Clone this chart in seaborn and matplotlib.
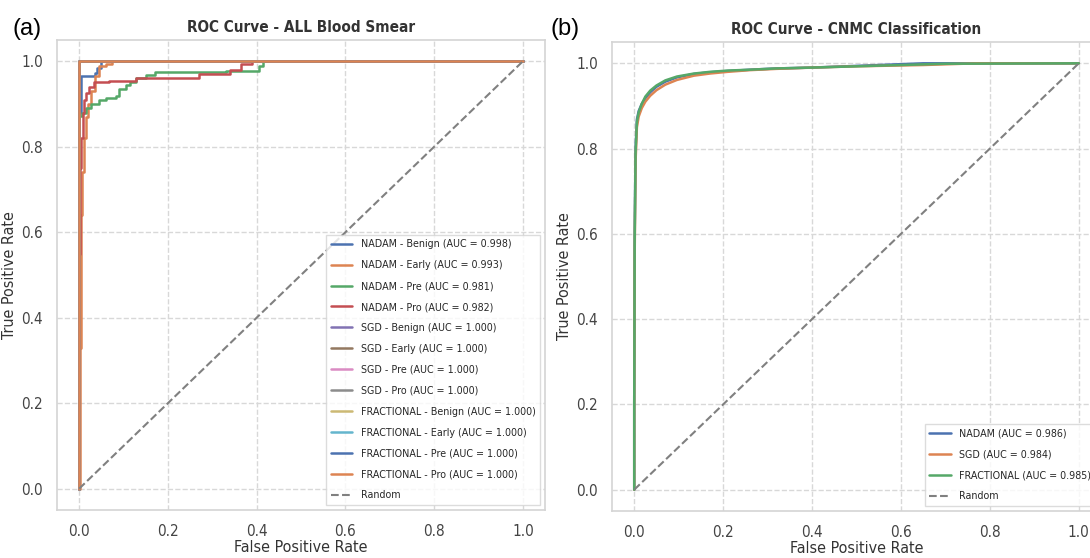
import numpy as np
import pandas as pd
import matplotlib
matplotlib.use("Agg")
import matplotlib.pyplot as plt
import seaborn as sns

# --- Panel (a): ALL Blood Smear, per-class ROC points ---
a_labels = [
    "NADAM - Benign (AUC = 0.998)", "NADAM - Early (AUC = 0.993)",
    "NADAM - Pre (AUC = 0.981)", "NADAM - Pro (AUC = 0.982)",
    "SGD - Benign (AUC = 1.000)", "SGD - Early (AUC = 1.000)",
    "SGD - Pre (AUC = 1.000)", "SGD - Pro (AUC = 1.000)",
    "FRACTIONAL - Benign (AUC = 1.000)", "FRACTIONAL - Early (AUC = 1.000)",
    "FRACTIONAL - Pre (AUC = 1.000)", "FRACTIONAL - Pro (AUC = 1.000)",
]

nadam_benign_fpr = [0, 0, 0.003, 0.035, 0.04, 0.05, 1.0]
nadam_benign_tpr = [0, 0.88, 0.965, 0.972, 0.985, 1.0, 1.0]

nadam_early_fpr = [0, 0.002, 0.004, 0.007, 0.011, 0.015, 0.020, 0.027, 0.036, 0.045, 0.06, 0.075, 1.0]
nadam_early_tpr = [0, 0.33, 0.64, 0.74, 0.82, 0.87, 0.90, 0.93, 0.965, 0.99, 0.995, 1.0, 1.0]

nadam_pre_fpr = [0, 0, 0.006, 0.015, 0.026, 0.045, 0.06, 0.083, 0.09, 0.105, 0.115, 0.128, 0.15, 0.17, 0.33, 0.405, 0.415, 1.0]
nadam_pre_tpr = [0, 0.872, 0.88, 0.89, 0.90, 0.91, 0.915, 0.92, 0.935, 0.945, 0.952, 0.962, 0.967, 0.975, 0.978, 0.99, 1.0, 1.0]

nadam_pro_fpr = [0, 0, 0.002, 0.005, 0.008, 0.011, 0.016, 0.023, 0.034, 0.068, 0.128, 0.27, 0.34, 0.365, 0.39, 1.0]
nadam_pro_tpr = [0, 0.55, 0.75, 0.82, 0.88, 0.91, 0.925, 0.94, 0.951, 0.955, 0.96, 0.97, 0.98, 0.993, 1.0, 1.0]

perfect_fpr = [0, 0, 1.0]
perfect_tpr = [0, 1.0, 1.0]

a_fpr = [nadam_benign_fpr, nadam_early_fpr, nadam_pre_fpr, nadam_pro_fpr] + [perfect_fpr] * 8
a_tpr = [nadam_benign_tpr, nadam_early_tpr, nadam_pre_tpr, nadam_pro_tpr] + [perfect_tpr] * 8

# --- Panel (b): CNMC Classification ---
b_labels = ["NADAM (AUC = 0.986)", "SGD (AUC = 0.984)", "FRACTIONAL (AUC = 0.985)"]

nadam_fpr = [0, 0, 0.001, 0.003, 0.006, 0.01, 0.017, 0.025, 0.036, 0.05, 0.07, 0.096, 0.134, 0.17, 0.21, 0.26, 0.32, 0.4, 0.5, 0.6, 0.65, 1.0]
nadam_tpr = [0, 0.2, 0.6, 0.8, 0.868, 0.888, 0.905, 0.918, 0.932, 0.945, 0.957, 0.967, 0.975, 0.979, 0.982, 0.985, 0.988, 0.99, 0.994, 0.998, 1.0, 1.0]

sgd_fpr = [0, 0, 0.001, 0.003, 0.006, 0.01, 0.017, 0.025, 0.036, 0.05, 0.07, 0.096, 0.134, 0.17, 0.21, 0.26, 0.32, 0.4, 0.5, 0.65, 0.77, 1.0]
sgd_tpr = [0, 0.2, 0.55, 0.77, 0.85, 0.875, 0.895, 0.91, 0.924, 0.937, 0.95, 0.961, 0.971, 0.976, 0.98, 0.984, 0.987, 0.99, 0.993, 0.996, 1.0, 1.0]

frac_fpr = [0, 0, 0.001, 0.003, 0.006, 0.01, 0.017, 0.025, 0.036, 0.05, 0.07, 0.096, 0.134, 0.17, 0.21, 0.26, 0.32, 0.4, 0.5, 0.6, 0.7, 1.0]
frac_tpr = [0, 0.2, 0.58, 0.79, 0.862, 0.885, 0.905, 0.922, 0.936, 0.948, 0.96, 0.969, 0.976, 0.98, 0.983, 0.985, 0.988, 0.99, 0.993, 0.996, 0.999, 1.0]

b_fpr = [nadam_fpr, sgd_fpr, frac_fpr]
b_tpr = [nadam_tpr, sgd_tpr, frac_tpr]

ticks = [0.0, 0.2, 0.4, 0.6, 0.8, 1.0]

sns.set_theme(style="whitegrid", palette="deep")
plt.rcParams["font.family"] = ["DejaVu Sans"]
plt.rcParams["font.stretch"] = "condensed"

fig = plt.figure(figsize=(10.9, 5.58), dpi=100)
ax1 = fig.add_axes([57 / 1090, 48 / 558, 488 / 1090, 470 / 558])
ax2 = fig.add_axes([612 / 1090, 47 / 558, 489 / 1090, 469 / 558])

colors = sns.color_palette("deep", 10)


def style_axes(ax, title):
    ax.set_xlim(-0.05, 1.05)
    ax.set_ylim(-0.05, 1.05)
    ax.set_xticks(ticks)
    ax.set_yticks(ticks)
    ax.grid(True, linestyle="--", color="#d8d8d8", linewidth=1.0)
    for s in ax.spines.values():
        s.set_color("#d4d4d4")
        s.set_linewidth(1.2)
    ax.tick_params(labelsize=11, colors="#444444", pad=4)
    ax.set_xlabel("False Positive Rate", fontsize=11.5, color="#333333", labelpad=1)
    ax.set_ylabel("True Positive Rate", fontsize=11.5, color="#333333", labelpad=3)
    ax.set_title(title, fontsize=11, fontweight="bold", color="#333333", pad=6)


for i, (fx, ty) in enumerate(zip(a_fpr, a_tpr)):
    sns.lineplot(x=fx, y=ty, ax=ax1, color=colors[i % 10], label=a_labels[i],
                 sort=False, estimator=None, linewidth=1.8, drawstyle="steps-post")
ax1.plot([0, 1], [0, 1], linestyle="--", color="gray", linewidth=1.5, label="Random")
style_axes(ax1, "ROC Curve - ALL Blood Smear")
ax1.legend(loc="lower right", fontsize=7.7, labelspacing=1.02, handlelength=2.0,
           frameon=True, edgecolor="#d4d4d4", fancybox=False, borderaxespad=0.5)

for i, (fx, ty) in enumerate(zip(b_fpr, b_tpr)):
    sns.lineplot(x=fx, y=ty, ax=ax2, color=colors[i], label=b_labels[i],
                 sort=False, estimator=None, linewidth=1.8)
ax2.plot([0, 1], [0, 1], linestyle="--", color="gray", linewidth=1.5, label="Random")
style_axes(ax2, "ROC Curve - CNMC Classification")
ax2.legend(loc="lower right", fontsize=7.7, labelspacing=1.02, handlelength=2.0,
           frameon=True, edgecolor="#d4d4d4", fancybox=False, borderaxespad=0.5)

fig.text(12 / 1090, 1 - 29 / 558, "(a)", fontsize=17, family="Liberation Sans",
         stretch="normal", va="center", ha="left", color="black")
fig.text(550 / 1090, 1 - 29 / 558, "(b)", fontsize=17, family="Liberation Sans",
         stretch="normal", va="center", ha="left", color="black")

fig.savefig("out.png", dpi=100)
